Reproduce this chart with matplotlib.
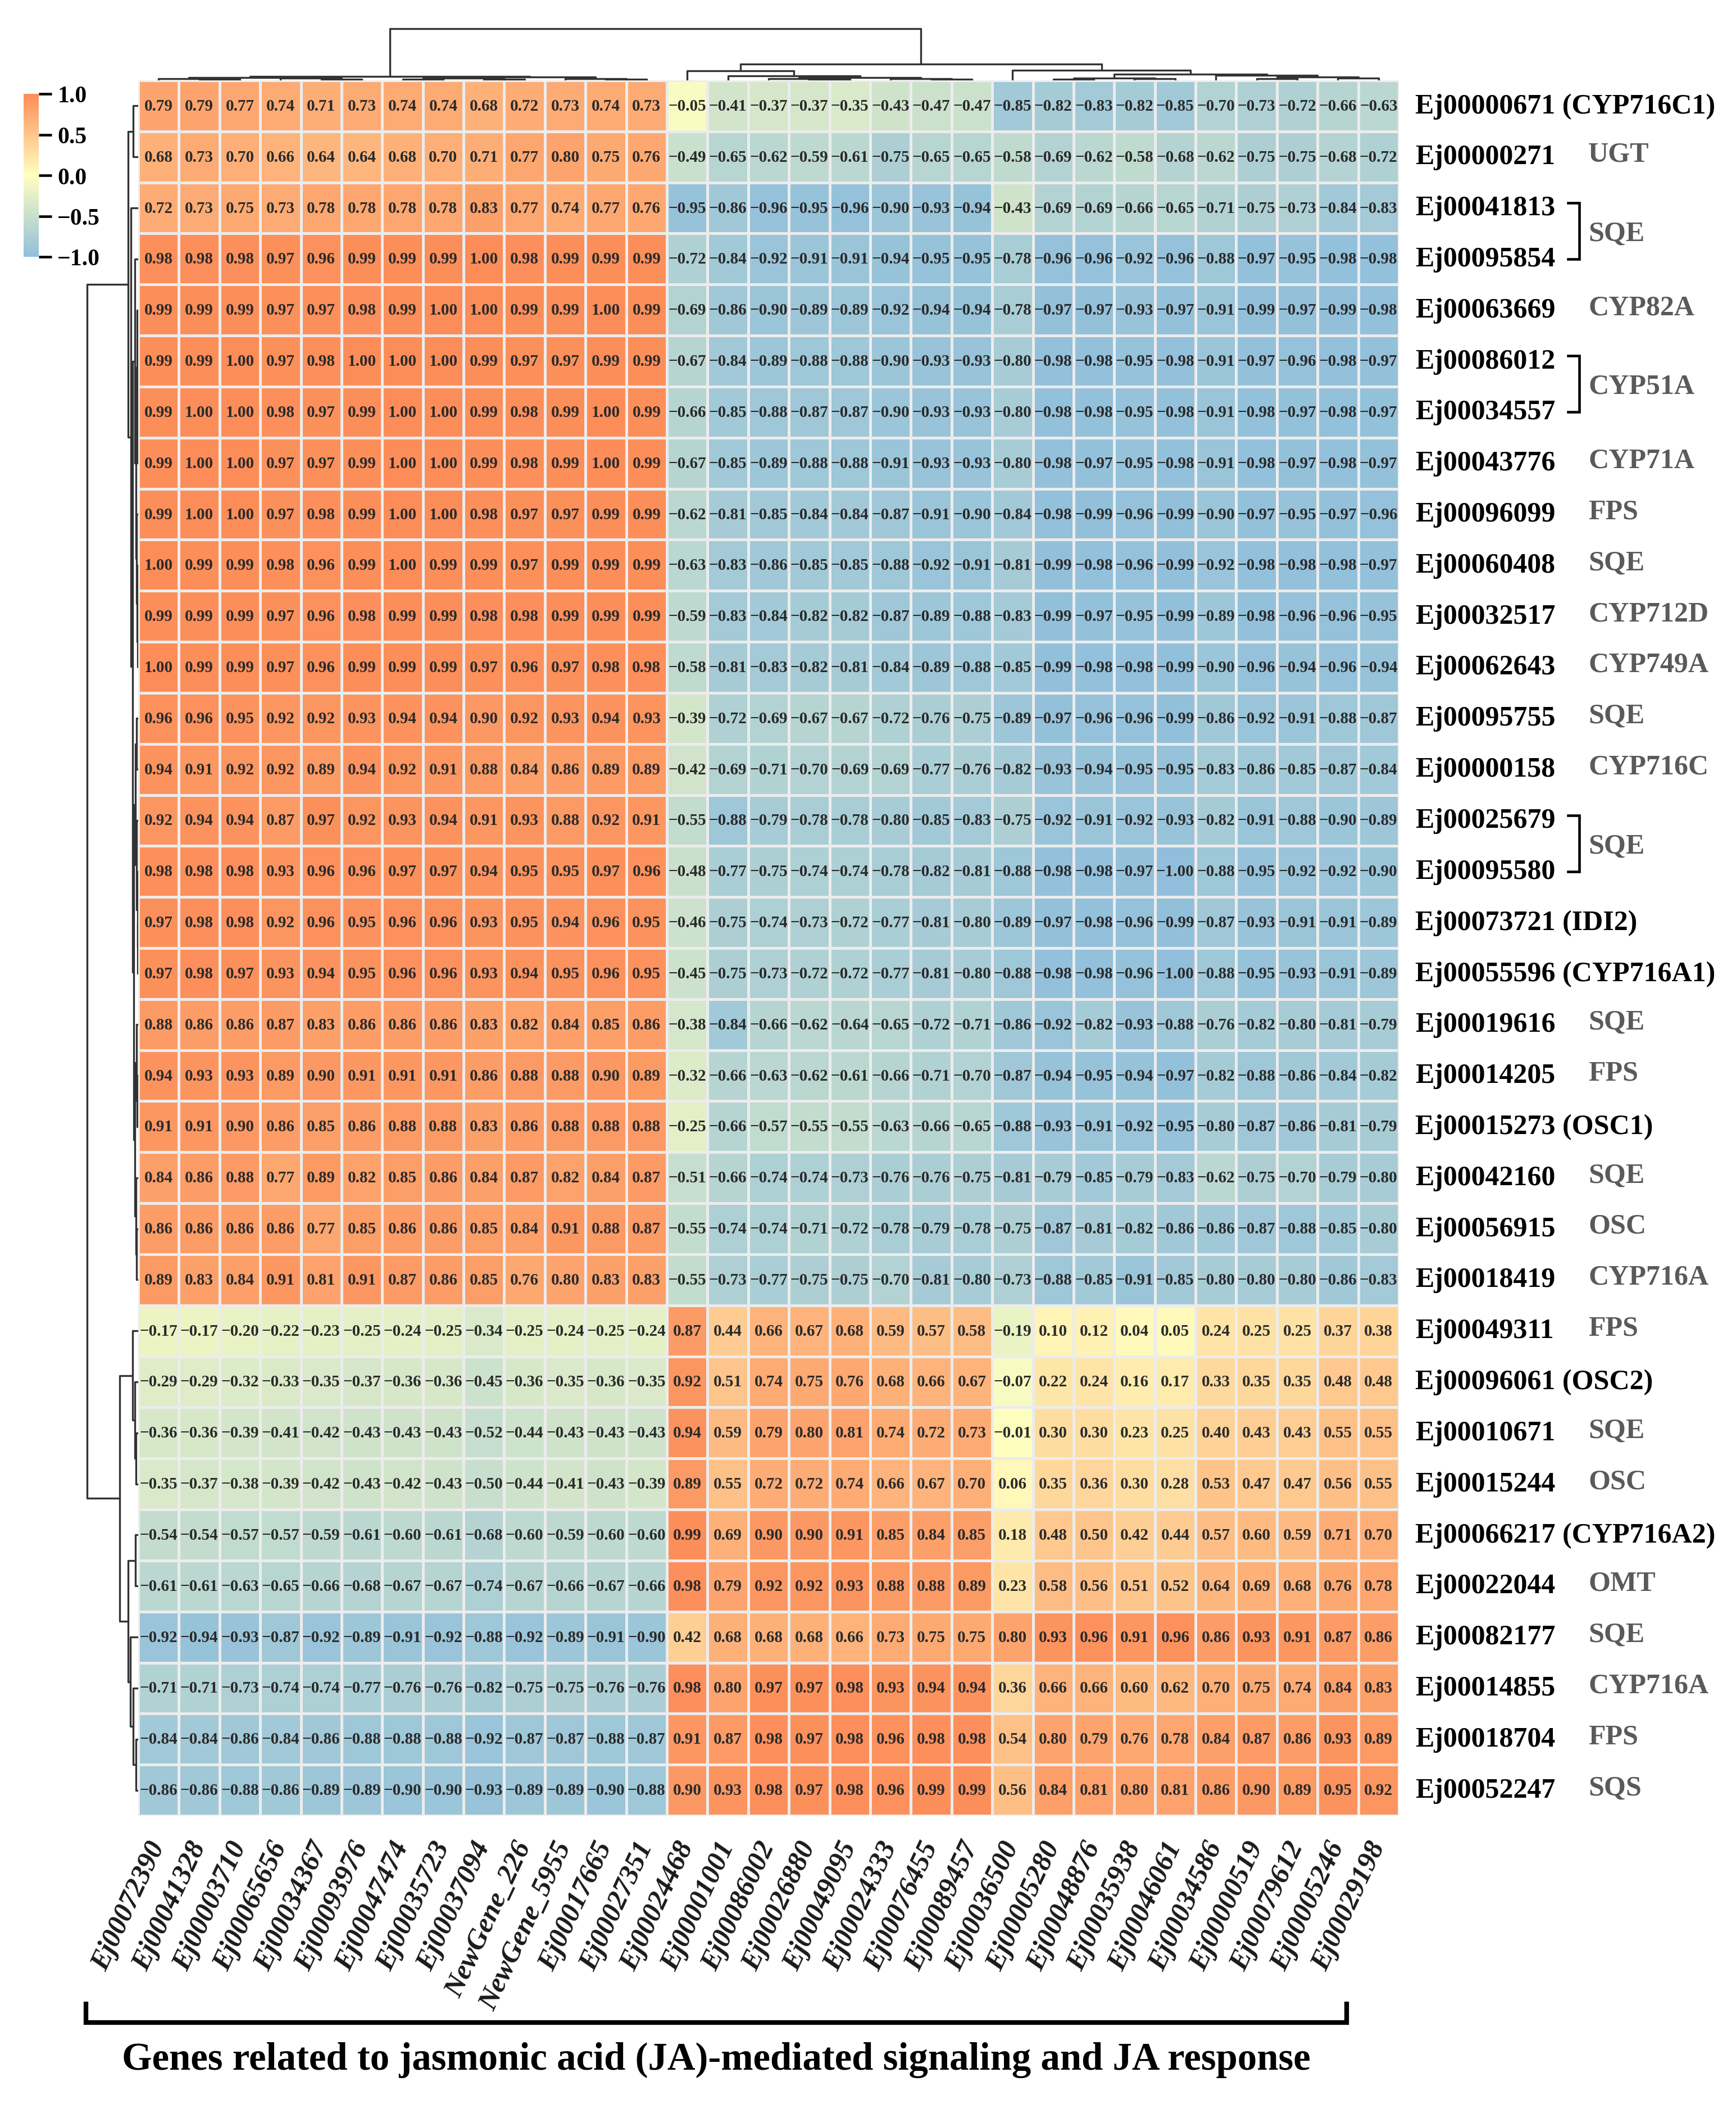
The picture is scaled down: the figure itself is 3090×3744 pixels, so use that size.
import numpy as np
import matplotlib
matplotlib.use("Agg")
import matplotlib.pyplot as plt
from matplotlib.colors import LinearSegmentedColormap, Normalize
from matplotlib.cm import ScalarMappable
from matplotlib.transforms import blended_transform_factory
from matplotlib.lines import Line2D

plt.rcParams["font.family"] = ["Liberation Serif", "DejaVu Serif"]
plt.rcParams["font.weight"] = "bold"

# ---------------- data ----------------
col_labels = ["Ej00072390", "Ej00041328", "Ej00003710", "Ej00065656", "Ej00034367",
              "Ej00093976", "Ej00047474", "Ej00035723", "Ej00037094", "NewGene_226",
              "NewGene_5955", "Ej00017665", "Ej00027351", "Ej00024468", "Ej00001001",
              "Ej00086002", "Ej00026880", "Ej00049095", "Ej00024333", "Ej00076455",
              "Ej00089457", "Ej00036500", "Ej00005280", "Ej00048876", "Ej00035938",
              "Ej00046061", "Ej00034586", "Ej00000519", "Ej00079612", "Ej00005246",
              "Ej00029198"]

row_labels = ["Ej00000671 (CYP716C1)", "Ej00000271", "Ej00041813", "Ej00095854",
              "Ej00063669", "Ej00086012", "Ej00034557", "Ej00043776", "Ej00096099",
              "Ej00060408", "Ej00032517", "Ej00062643", "Ej00095755", "Ej00000158",
              "Ej00025679", "Ej00095580", "Ej00073721 (IDI2)", "Ej00055596 (CYP716A1)",
              "Ej00019616", "Ej00014205", "Ej00015273 (OSC1)", "Ej00042160",
              "Ej00056915", "Ej00018419", "Ej00049311", "Ej00096061 (OSC2)",
              "Ej00010671", "Ej00015244", "Ej00066217 (CYP716A2)", "Ej00022044",
              "Ej00082177", "Ej00014855", "Ej00018704", "Ej00052247"]

# grey family labels for single rows (row index -> family)
single_families = {1: "UGT", 4: "CYP82A", 7: "CYP71A", 8: "FPS", 9: "SQE",
                   10: "CYP712D", 11: "CYP749A", 12: "SQE", 13: "CYP716C",
                   18: "SQE", 19: "FPS", 21: "SQE", 22: "OSC", 23: "CYP716A",
                   24: "FPS", 26: "SQE", 27: "OSC", 29: "OMT", 30: "SQE",
                   31: "CYP716A", 32: "FPS", 33: "SQS"}
# bracketed pairs (first row, second row, family)
bracket_families = [(2, 3, "SQE"), (5, 6, "CYP51A"), (14, 15, "SQE")]

values = [
    [0.79, 0.79, 0.77, 0.74, 0.71, 0.73, 0.74, 0.74, 0.68, 0.72, 0.73, 0.74, 0.73, -0.05, -0.41, -0.37, -0.37, -0.35, -0.43, -0.47, -0.47, -0.85, -0.82, -0.83, -0.82, -0.85, -0.70, -0.73, -0.72, -0.66, -0.63],
    [0.68, 0.73, 0.70, 0.66, 0.64, 0.64, 0.68, 0.70, 0.71, 0.77, 0.80, 0.75, 0.76, -0.49, -0.65, -0.62, -0.59, -0.61, -0.75, -0.65, -0.65, -0.58, -0.69, -0.62, -0.58, -0.68, -0.62, -0.75, -0.75, -0.68, -0.72],
    [0.72, 0.73, 0.75, 0.73, 0.78, 0.78, 0.78, 0.78, 0.83, 0.77, 0.74, 0.77, 0.76, -0.95, -0.86, -0.96, -0.95, -0.96, -0.90, -0.93, -0.94, -0.43, -0.69, -0.69, -0.66, -0.65, -0.71, -0.75, -0.73, -0.84, -0.83],
    [0.98, 0.98, 0.98, 0.97, 0.96, 0.99, 0.99, 0.99, 1.00, 0.98, 0.99, 0.99, 0.99, -0.72, -0.84, -0.92, -0.91, -0.91, -0.94, -0.95, -0.95, -0.78, -0.96, -0.96, -0.92, -0.96, -0.88, -0.97, -0.95, -0.98, -0.98],
    [0.99, 0.99, 0.99, 0.97, 0.97, 0.98, 0.99, 1.00, 1.00, 0.99, 0.99, 1.00, 0.99, -0.69, -0.86, -0.90, -0.89, -0.89, -0.92, -0.94, -0.94, -0.78, -0.97, -0.97, -0.93, -0.97, -0.91, -0.99, -0.97, -0.99, -0.98],
    [0.99, 0.99, 1.00, 0.97, 0.98, 1.00, 1.00, 1.00, 0.99, 0.97, 0.97, 0.99, 0.99, -0.67, -0.84, -0.89, -0.88, -0.88, -0.90, -0.93, -0.93, -0.80, -0.98, -0.98, -0.95, -0.98, -0.91, -0.97, -0.96, -0.98, -0.97],
    [0.99, 1.00, 1.00, 0.98, 0.97, 0.99, 1.00, 1.00, 0.99, 0.98, 0.99, 1.00, 0.99, -0.66, -0.85, -0.88, -0.87, -0.87, -0.90, -0.93, -0.93, -0.80, -0.98, -0.98, -0.95, -0.98, -0.91, -0.98, -0.97, -0.98, -0.97],
    [0.99, 1.00, 1.00, 0.97, 0.97, 0.99, 1.00, 1.00, 0.99, 0.98, 0.99, 1.00, 0.99, -0.67, -0.85, -0.89, -0.88, -0.88, -0.91, -0.93, -0.93, -0.80, -0.98, -0.97, -0.95, -0.98, -0.91, -0.98, -0.97, -0.98, -0.97],
    [0.99, 1.00, 1.00, 0.97, 0.98, 0.99, 1.00, 1.00, 0.98, 0.97, 0.97, 0.99, 0.99, -0.62, -0.81, -0.85, -0.84, -0.84, -0.87, -0.91, -0.90, -0.84, -0.98, -0.99, -0.96, -0.99, -0.90, -0.97, -0.95, -0.97, -0.96],
    [1.00, 0.99, 0.99, 0.98, 0.96, 0.99, 1.00, 0.99, 0.99, 0.97, 0.99, 0.99, 0.99, -0.63, -0.83, -0.86, -0.85, -0.85, -0.88, -0.92, -0.91, -0.81, -0.99, -0.98, -0.96, -0.99, -0.92, -0.98, -0.98, -0.98, -0.97],
    [0.99, 0.99, 0.99, 0.97, 0.96, 0.98, 0.99, 0.99, 0.98, 0.98, 0.99, 0.99, 0.99, -0.59, -0.83, -0.84, -0.82, -0.82, -0.87, -0.89, -0.88, -0.83, -0.99, -0.97, -0.95, -0.99, -0.89, -0.98, -0.96, -0.96, -0.95],
    [1.00, 0.99, 0.99, 0.97, 0.96, 0.99, 0.99, 0.99, 0.97, 0.96, 0.97, 0.98, 0.98, -0.58, -0.81, -0.83, -0.82, -0.81, -0.84, -0.89, -0.88, -0.85, -0.99, -0.98, -0.98, -0.99, -0.90, -0.96, -0.94, -0.96, -0.94],
    [0.96, 0.96, 0.95, 0.92, 0.92, 0.93, 0.94, 0.94, 0.90, 0.92, 0.93, 0.94, 0.93, -0.39, -0.72, -0.69, -0.67, -0.67, -0.72, -0.76, -0.75, -0.89, -0.97, -0.96, -0.96, -0.99, -0.86, -0.92, -0.91, -0.88, -0.87],
    [0.94, 0.91, 0.92, 0.92, 0.89, 0.94, 0.92, 0.91, 0.88, 0.84, 0.86, 0.89, 0.89, -0.42, -0.69, -0.71, -0.70, -0.69, -0.69, -0.77, -0.76, -0.82, -0.93, -0.94, -0.95, -0.95, -0.83, -0.86, -0.85, -0.87, -0.84],
    [0.92, 0.94, 0.94, 0.87, 0.97, 0.92, 0.93, 0.94, 0.91, 0.93, 0.88, 0.92, 0.91, -0.55, -0.88, -0.79, -0.78, -0.78, -0.80, -0.85, -0.83, -0.75, -0.92, -0.91, -0.92, -0.93, -0.82, -0.91, -0.88, -0.90, -0.89],
    [0.98, 0.98, 0.98, 0.93, 0.96, 0.96, 0.97, 0.97, 0.94, 0.95, 0.95, 0.97, 0.96, -0.48, -0.77, -0.75, -0.74, -0.74, -0.78, -0.82, -0.81, -0.88, -0.98, -0.98, -0.97, -1.00, -0.88, -0.95, -0.92, -0.92, -0.90],
    [0.97, 0.98, 0.98, 0.92, 0.96, 0.95, 0.96, 0.96, 0.93, 0.95, 0.94, 0.96, 0.95, -0.46, -0.75, -0.74, -0.73, -0.72, -0.77, -0.81, -0.80, -0.89, -0.97, -0.98, -0.96, -0.99, -0.87, -0.93, -0.91, -0.91, -0.89],
    [0.97, 0.98, 0.97, 0.93, 0.94, 0.95, 0.96, 0.96, 0.93, 0.94, 0.95, 0.96, 0.95, -0.45, -0.75, -0.73, -0.72, -0.72, -0.77, -0.81, -0.80, -0.88, -0.98, -0.98, -0.96, -1.00, -0.88, -0.95, -0.93, -0.91, -0.89],
    [0.88, 0.86, 0.86, 0.87, 0.83, 0.86, 0.86, 0.86, 0.83, 0.82, 0.84, 0.85, 0.86, -0.38, -0.84, -0.66, -0.62, -0.64, -0.65, -0.72, -0.71, -0.86, -0.92, -0.82, -0.93, -0.88, -0.76, -0.82, -0.80, -0.81, -0.79],
    [0.94, 0.93, 0.93, 0.89, 0.90, 0.91, 0.91, 0.91, 0.86, 0.88, 0.88, 0.90, 0.89, -0.32, -0.66, -0.63, -0.62, -0.61, -0.66, -0.71, -0.70, -0.87, -0.94, -0.95, -0.94, -0.97, -0.82, -0.88, -0.86, -0.84, -0.82],
    [0.91, 0.91, 0.90, 0.86, 0.85, 0.86, 0.88, 0.88, 0.83, 0.86, 0.88, 0.88, 0.88, -0.25, -0.66, -0.57, -0.55, -0.55, -0.63, -0.66, -0.65, -0.88, -0.93, -0.91, -0.92, -0.95, -0.80, -0.87, -0.86, -0.81, -0.79],
    [0.84, 0.86, 0.88, 0.77, 0.89, 0.82, 0.85, 0.86, 0.84, 0.87, 0.82, 0.84, 0.87, -0.51, -0.66, -0.74, -0.74, -0.73, -0.76, -0.76, -0.75, -0.81, -0.79, -0.85, -0.79, -0.83, -0.62, -0.75, -0.70, -0.79, -0.80],
    [0.86, 0.86, 0.86, 0.86, 0.77, 0.85, 0.86, 0.86, 0.85, 0.84, 0.91, 0.88, 0.87, -0.55, -0.74, -0.74, -0.71, -0.72, -0.78, -0.79, -0.78, -0.75, -0.87, -0.81, -0.82, -0.86, -0.86, -0.87, -0.88, -0.85, -0.80],
    [0.89, 0.83, 0.84, 0.91, 0.81, 0.91, 0.87, 0.86, 0.85, 0.76, 0.80, 0.83, 0.83, -0.55, -0.73, -0.77, -0.75, -0.75, -0.70, -0.81, -0.80, -0.73, -0.88, -0.85, -0.91, -0.85, -0.80, -0.80, -0.80, -0.86, -0.83],
    [-0.17, -0.17, -0.20, -0.22, -0.23, -0.25, -0.24, -0.25, -0.34, -0.25, -0.24, -0.25, -0.24, 0.87, 0.44, 0.66, 0.67, 0.68, 0.59, 0.57, 0.58, -0.19, 0.10, 0.12, 0.04, 0.05, 0.24, 0.25, 0.25, 0.37, 0.38],
    [-0.29, -0.29, -0.32, -0.33, -0.35, -0.37, -0.36, -0.36, -0.45, -0.36, -0.35, -0.36, -0.35, 0.92, 0.51, 0.74, 0.75, 0.76, 0.68, 0.66, 0.67, -0.07, 0.22, 0.24, 0.16, 0.17, 0.33, 0.35, 0.35, 0.48, 0.48],
    [-0.36, -0.36, -0.39, -0.41, -0.42, -0.43, -0.43, -0.43, -0.52, -0.44, -0.43, -0.43, -0.43, 0.94, 0.59, 0.79, 0.80, 0.81, 0.74, 0.72, 0.73, -0.01, 0.30, 0.30, 0.23, 0.25, 0.40, 0.43, 0.43, 0.55, 0.55],
    [-0.35, -0.37, -0.38, -0.39, -0.42, -0.43, -0.42, -0.43, -0.50, -0.44, -0.41, -0.43, -0.39, 0.89, 0.55, 0.72, 0.72, 0.74, 0.66, 0.67, 0.70, 0.06, 0.35, 0.36, 0.30, 0.28, 0.53, 0.47, 0.47, 0.56, 0.55],
    [-0.54, -0.54, -0.57, -0.57, -0.59, -0.61, -0.60, -0.61, -0.68, -0.60, -0.59, -0.60, -0.60, 0.99, 0.69, 0.90, 0.90, 0.91, 0.85, 0.84, 0.85, 0.18, 0.48, 0.50, 0.42, 0.44, 0.57, 0.60, 0.59, 0.71, 0.70],
    [-0.61, -0.61, -0.63, -0.65, -0.66, -0.68, -0.67, -0.67, -0.74, -0.67, -0.66, -0.67, -0.66, 0.98, 0.79, 0.92, 0.92, 0.93, 0.88, 0.88, 0.89, 0.23, 0.58, 0.56, 0.51, 0.52, 0.64, 0.69, 0.68, 0.76, 0.78],
    [-0.92, -0.94, -0.93, -0.87, -0.92, -0.89, -0.91, -0.92, -0.88, -0.92, -0.89, -0.91, -0.90, 0.42, 0.68, 0.68, 0.68, 0.66, 0.73, 0.75, 0.75, 0.80, 0.93, 0.96, 0.91, 0.96, 0.86, 0.93, 0.91, 0.87, 0.86],
    [-0.71, -0.71, -0.73, -0.74, -0.74, -0.77, -0.76, -0.76, -0.82, -0.75, -0.75, -0.76, -0.76, 0.98, 0.80, 0.97, 0.97, 0.98, 0.93, 0.94, 0.94, 0.36, 0.66, 0.66, 0.60, 0.62, 0.70, 0.75, 0.74, 0.84, 0.83],
    [-0.84, -0.84, -0.86, -0.84, -0.86, -0.88, -0.88, -0.88, -0.92, -0.87, -0.87, -0.88, -0.87, 0.91, 0.87, 0.98, 0.97, 0.98, 0.96, 0.98, 0.98, 0.54, 0.80, 0.79, 0.76, 0.78, 0.84, 0.87, 0.86, 0.93, 0.89],
    [-0.86, -0.86, -0.88, -0.86, -0.89, -0.89, -0.90, -0.90, -0.93, -0.89, -0.89, -0.90, -0.88, 0.90, 0.93, 0.98, 0.97, 0.98, 0.96, 0.99, 0.99, 0.56, 0.84, 0.81, 0.80, 0.81, 0.86, 0.90, 0.89, 0.95, 0.92],
]

# dendrogram trees: (merge height, left, right); leaves are row / column indices
col_tree = (92,
            (7, (5, (3, 0, (2, 1, 2)), (4, 3, (2, 4, 5))),
                (6, (4, (2, 6, 7), (2.5, 8, 9)), (3.5, 10, (2, 11, 12)))),
            (29,
             (17, 13, (8, 14, (5, (3, 15, (2, 16, 17)), (3.5, 18, (2, 19, 20))))),
             (18, 21, (11, (4, (2, 22, 23), (3, 24, 25)),
                          (9, 26, (6, (3, 27, 28), (4, 29, 30)))))))

row_tree = (91,
            (18, (9, 0, 1),
                 (13, 2,
                  (10, (6, 3, (4, (2, 4, (1.5, (1, 5, 6), 7)),
                               (3, 8, (2, 9, (1.5, 10, 11))))),
                       (8, (5, (3.5, 12, 13), (3, 14, (1.5, 15, (1, 16, 17)))),
                           (6, (3, 18, (2, 19, 20)), (4.5, 21, (3, 22, 23))))))),
            (33, (10, 24, (6, 25, (4, 26, 27))),
                 (18, (5, 28, 29), (14, 30, (9, 31, (4, 32, 33))))))

title = "Genes related to jasmonic acid (JA)-mediated signaling and JA response"

# ---------------- layout helpers (pixel based) ----------------
W, H = 3090, 3745
DPI = 300
fig = plt.figure(figsize=(W / DPI, H / DPI), dpi=DPI)


def add_ax(x0, y0, x1, y1):
    return fig.add_axes([x0 / W, 1 - y1 / H, (x1 - x0) / W, (y1 - y0) / H])


HM_L, HM_R, HM_T, HM_B = 246, 2490, 144, 3232
data = np.array(values)
nrow, ncol = data.shape

cmap = LinearSegmentedColormap.from_list("rdylbu3", ["#91bfdb", "#ffffbf", "#fc8d59"])
norm = Normalize(vmin=-1, vmax=1)

# ---------------- heatmap ----------------
ax = add_ax(HM_L, HM_T, HM_R, HM_B)
ax.pcolormesh(np.arange(ncol + 1), np.arange(nrow + 1), data, cmap=cmap, norm=norm,
              edgecolors="#ececec", linewidth=0.8)
ax.set_xlim(0, ncol)
ax.set_ylim(nrow, 0)
ax.axis("off")

for i in range(nrow):
    for j in range(ncol):
        v = data[i, j]
        s = f"{v:.2f}".replace("-", "\u2212")
        ax.text(j + 0.5, i + 0.5, s, ha="center", va="center", fontsize=7.0,
                fontweight="bold", color="#2a2a2a")

# ---------------- row labels ----------------
tr = blended_transform_factory(fig.transFigure, ax.transData)
LBL_X = 2519 / W
FAM_X = 2827 / W
for i, lab in enumerate(row_labels):
    ax.text(LBL_X, i + 0.5, lab, transform=tr, ha="left", va="center",
            fontsize=12, fontweight="bold", color="black")
for i, fam in single_families.items():
    ax.text(FAM_X, i + 0.45, fam, transform=tr, ha="left", va="center",
            fontsize=12, fontweight="bold", color="#5a5a5a")
BR_X0, BR_X1 = 2791 / W, 2811 / W
for a, b, fam in bracket_families:
    ya, yb = a + 0.4, b + 0.5
    ax.plot([BR_X0, BR_X1, BR_X1, BR_X0], [ya, ya, yb, yb], transform=tr,
            color="black", lw=1.1, clip_on=False, solid_joinstyle="miter")
    ax.text(FAM_X, (a + b) / 2 + 0.5, fam, transform=tr, ha="left", va="center",
            fontsize=12, fontweight="bold", color="#5a5a5a")

# ---------------- column labels ----------------
tc = blended_transform_factory(ax.transData, fig.transFigure)
for j, lab in enumerate(col_labels):
    ax.text(j + 0.5, 1 - 3280 / H, lab, transform=tc, rotation=65,
            rotation_mode="anchor", ha="right", va="center", fontsize=12,
            fontweight="bold", fontstyle="italic", color="#1a1a1a")


# ---------------- dendrograms ----------------
def draw_tree(axd, node, orient):
    if isinstance(node, int):
        return node + 0.5, 0.0
    h, a, b = node
    pa, ha = draw_tree(axd, a, orient)
    pb, hb = draw_tree(axd, b, orient)
    pos = [pa, pa, pb, pb]
    hts = [ha, h, h, hb]
    if orient == "top":
        axd.plot(pos, hts, color="#333333", lw=0.8, solid_capstyle="butt")
    else:
        axd.plot(hts, pos, color="#333333", lw=0.8, solid_capstyle="butt")
    return (pa + pb) / 2, h


axc = add_ax(HM_L, HM_T - 100, HM_R, HM_T)
draw_tree(axc, col_tree, "top")
axc.set_xlim(0, ncol)
axc.set_ylim(0, 100)
axc.axis("off")

axr = add_ax(HM_L - 100, HM_T, HM_L, HM_B)
draw_tree(axr, row_tree, "left")
axr.set_xlim(100, 0)
axr.set_ylim(nrow, 0)
axr.axis("off")

# ---------------- colorbar ----------------
cax = add_ax(42, 168, 69, 458)
cb = fig.colorbar(ScalarMappable(norm=norm, cmap=cmap), cax=cax,
                  ticks=[-1, -0.5, 0, 0.5, 1])
cb.outline.set_visible(False)
cb.ax.tick_params(length=5.5, width=1.1, pad=2.5, labelsize=10, color="black")
cb.ax.set_yticklabels(["\u22121.0", "\u22120.5", "0.0", "0.5", "1.0"],
                      fontweight="bold")

# ---------------- bottom bracket and title ----------------
bx0, bx1, by_top, by = 153 / W, 2397 / W, 1 - 3567 / H, 1 - 3600 / H
fig.add_artist(Line2D([bx0, bx0, bx1, bx1], [by_top, by, by, by_top],
                      transform=fig.transFigure, color="black", lw=2.0,
                      solid_joinstyle="miter"))
fig.text(1275 / W, 1 - 3666 / H, title, ha="center", va="center",
         fontsize=16.5, fontweight="bold", color="black")

fig.savefig("out.png", dpi=DPI)
